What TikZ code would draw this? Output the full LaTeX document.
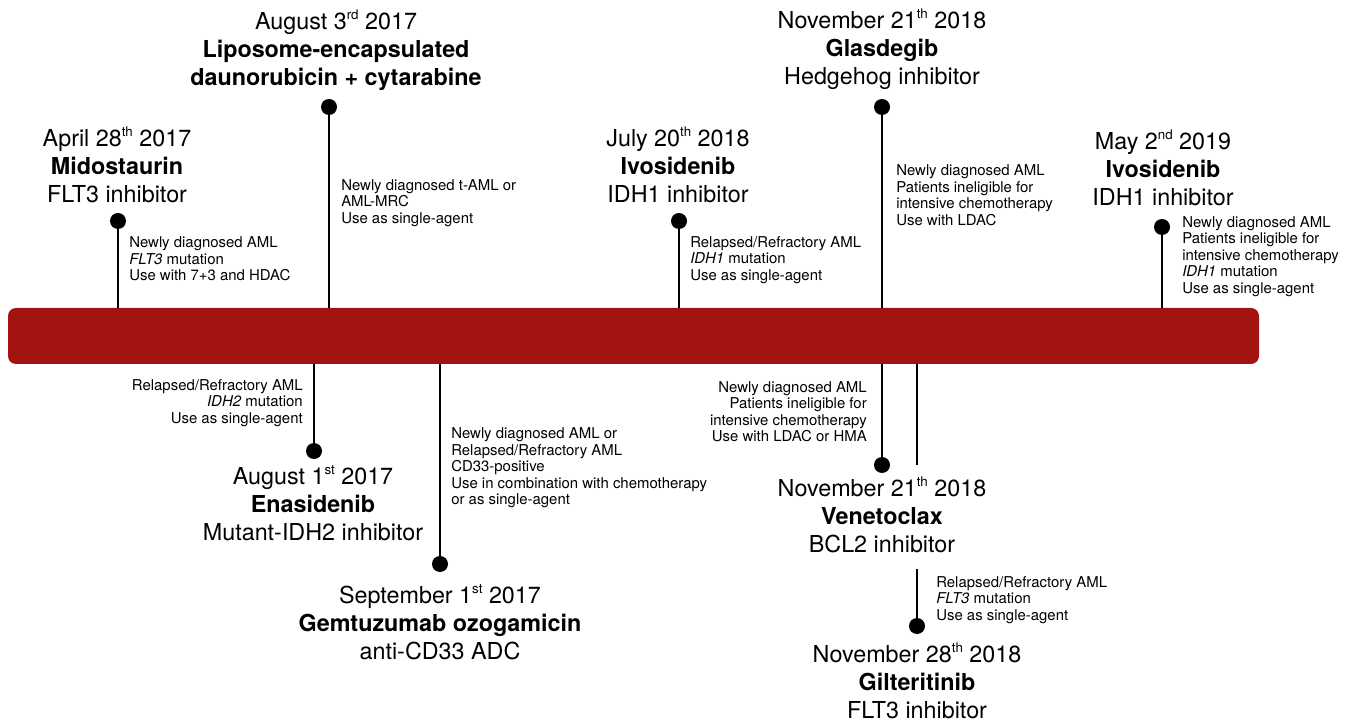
\documentclass[tikz,border=0pt]{standalone}
\usepackage{fontspec}
\setmainfont{TeX Gyre Heros}
\usetikzlibrary{positioning}
\definecolor{barred}{RGB}{163,20,17}
\newcommand{\ordsup}[1]{\raisebox{0.42em}{\fontsize{10}{10}\selectfont #1}}

\begin{document}
\begin{tikzpicture}[
  x=0.75pt,y=-0.75pt,
  title/.style={align=center,inner sep=0pt,font=\fontsize{17.5}{21}\selectfont},
  note/.style={align=left,inner sep=0pt,font=\fontsize{11.2}{12.4}\selectfont},
  noteR/.style={note,align=right},
  dot/.style={circle,fill=black,inner sep=0pt,minimum size=12pt},
  stem/.style={line width=1.5pt},
  bar/.style={fill=barred,rounded corners=6pt,minimum width=938.25pt,minimum height=42pt,inner sep=0pt}
]
\useasboundingbox (0,0) rectangle (1354,723);
\node[bar] (bar) at (633.5,336) {};

% approvals above the bar
\node[dot] (mido) at (118,221) {};
\node[dot] (lipo) at (329,107) {};
\node[dot] (ivoA) at (679,221) {};
\node[dot] (glas) at (882,107) {};
\node[dot] (ivoB) at (1162,227) {};
% approvals below the bar
\node[dot] (enas) at (314,451) {};
\node[dot] (gemt) at (440,564) {};
\node[dot] (vene) at (882,465) {};
\node[dot] (gilt) at (917,626) {};

\foreach \d in {mido,lipo,ivoA,glas,ivoB}
  \draw[stem] (\d) -- (\d |- bar.north);
\foreach \d in {enas,gemt,vene}
  \draw[stem] (bar.south -| \d) -- (\d);

\node[title] (midoT) at (117,165) {April 28\ordsup{th} 2017\\\textbf{Midostaurin}\\FLT3 inhibitor};
\node[title] (lipoT) at (336,50) {August 3\ordsup{rd} 2017\\\textbf{Liposome-encapsulated}\\\textbf{daunorubicin + cytarabine}};
\node[title] (ivoAT) at (678,165) {July 20\ordsup{th} 2018\\\textbf{Ivosidenib}\\IDH1 inhibitor};
\node[title] (glasT) at (882,49) {November 21\ordsup{th} 2018\\\textbf{Glasdegib}\\Hedgehog inhibitor};
\node[title] (ivoBT) at (1163,168) {May 2\ordsup{nd} 2019\\\textbf{Ivosidenib}\\IDH1 inhibitor};
\node[title] (enasT) at (313,503) {August 1\ordsup{st} 2017\\\textbf{Enasidenib}\\Mutant-IDH2 inhibitor};
\node[title] (gemtT) at (440,622) {September 1\ordsup{st} 2017\\\textbf{Gemtuzumab ozogamicin}\\anti-CD33 ADC};
\node[title] (veneT) at (882,515) {November 21\ordsup{th} 2018\\\textbf{Venetoclax}\\BCL2 inhibitor};
\node[title] (giltT) at (917,681) {November 28\ordsup{th} 2018\\\textbf{Gilteritinib}\\FLT3 inhibitor};

% gilteritinib stem, broken round the venetoclax label
\coordinate (gapTop) at ([yshift=9pt]veneT.north);
\coordinate (gapBot) at ([yshift=-12pt]veneT.south);
\draw[stem] (bar.south -| gilt) -- (gapTop -| gilt);
\draw[stem] (gapBot -| gilt) -- (gilt);

\node[note,anchor=west] (midoN) at (129,259) {Newly diagnosed AML\\\textit{FLT3} mutation\\Use with 7+3 and HDAC};
\node[note,anchor=west] (lipoN) at (341,203) {Newly diagnosed t-AML or\\AML-MRC\\Use as single-agent};
\node[note,anchor=west] (ivoAN) at (690,260) {Relapsed/Refractory AML\\\textit{IDH1} mutation\\Use as single-agent};
\node[note,anchor=west] (glasN) at (896,195) {Newly diagnosed AML\\Patients ineligible for\\intensive chemotherapy\\Use with LDAC};
\node[note,anchor=west] (ivoBN) at (1182,256.5) {Newly diagnosed AML\\Patients ineligible for\\intensive chemotherapy\\\textit{IDH1} mutation\\Use as single-agent};
\node[noteR,anchor=east] (enasN) at (303,403) {Relapsed/Refractory AML\\\textit{IDH2} mutation\\Use as single-agent};
\node[note,anchor=west] (gemtN) at (451,468) {Newly diagnosed AML or\\Relapsed/Refractory AML\\CD33-positive\\Use in combination with chemotherapy\\or as single-agent};
\node[noteR,anchor=east] (veneN) at (867,411.5) {Newly diagnosed AML\\Patients ineligible for\\intensive chemotherapy\\Use with LDAC or HMA};
\node[note,anchor=west] (giltN) at (936,600) {Relapsed/Refractory AML\\\textit{FLT3} mutation\\Use as single-agent};
\end{tikzpicture}
\end{document}
